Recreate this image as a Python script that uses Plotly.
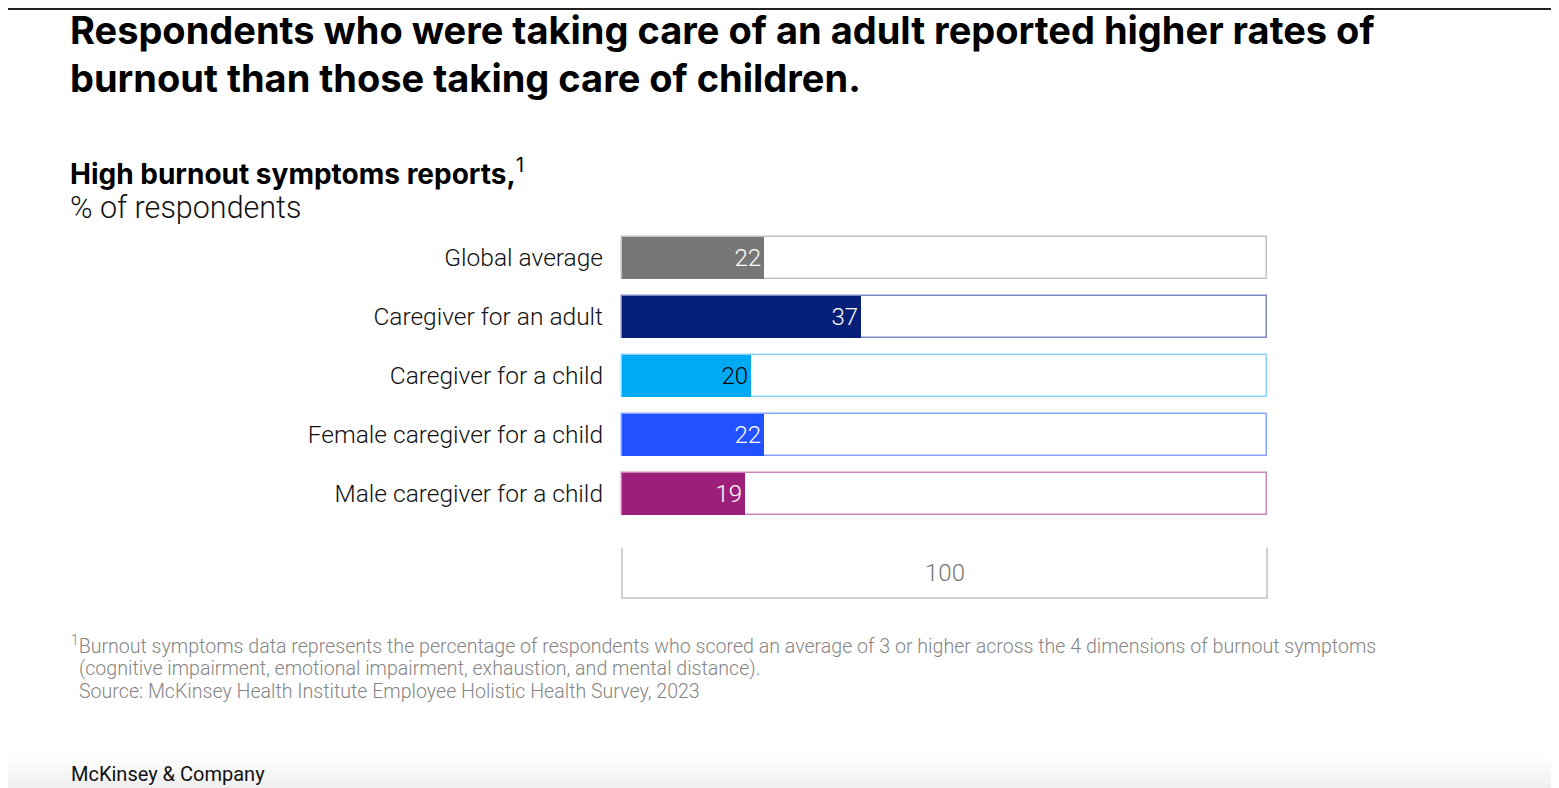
import plotly.graph_objects as go

# chart data
categories = ['Global average', 'Caregiver for an adult', 'Caregiver for a child',
              'Female caregiver for a child', 'Male caregiver for a child']
values = [22, 37, 20, 22, 19]
total = 100
bar_colors = ['#777777', '#061F79', '#00A9F4', '#2251FF', '#9E1F7A']
outline_colors = ['#C2C2C2', '#8089C0', '#8AD6F7', '#8AA2FF', '#CD86B9']
text_colors = ['white', 'white', 'black', 'white', 'white']

footnote_lines = [
    '<sup>1</sup>Burnout symptoms data represents the percentage of respondents who scored '
    'an average of 3 or higher across the 4 dimensions of burnout symptoms',
    '(cognitive impairment, emotional impairment, exhaustion, and mental distance).',
    'Source: McKinsey Health Institute Employee Holistic Health Survey, 2023',
]

positions = list(range(len(categories)))
FONT = 'Roboto'
BAR_W = 0.71

# page offset: the browser puts the figure 8px in from the corner
OFF = 8
W, H = 1559 - OFF, 788 - OFF
L, R, T, B = 620 - OFF, W - (1269 - OFF), 228 - OFF, H - (606 - OFF)
PW, PH = W - L - R, H - T - B


def px(x_ref, y_ref):
    # reference screenshot pixels -> paper coords
    return (x_ref - OFF - L) / PW, 1 - (y_ref - OFF - T) / PH


fig = go.Figure()

# 100% backdrop bars with thin coloured outline
fig.add_bar(y=positions, x=[total] * len(values), orientation='h', width=BAR_W,
            marker=dict(color='white', line=dict(color=outline_colors, width=1.5)),
            hoverinfo='skip', showlegend=False)

# value bars
fig.add_bar(y=positions, x=values, orientation='h', width=BAR_W,
            marker=dict(color=bar_colors, line=dict(width=0)),
            text=[str(v) for v in values], textposition='inside', insidetextanchor='end',
            textfont=dict(family=FONT, size=24, color=text_colors, weight=300), textangle=0,
            cliponaxis=False, showlegend=False)

# scale bracket for 100 (open on top)
box_top, box_bottom = 4.915, 5.763
fig.add_scatter(x=[0, 0, total, total], y=[box_top, box_bottom, box_bottom, box_top],
                mode='lines', line=dict(color='#C2C2C2', width=1.5),
                hoverinfo='skip', showlegend=False)
fig.add_annotation(x=total / 2, y=(box_top + box_bottom) / 2, text=str(total),
                   showarrow=False, font=dict(family=FONT, size=24, color='#777777', weight=300))

fig.update_layout(
    width=W, height=H,
    margin=dict(l=L, r=R, t=T, b=B),
    paper_bgcolor='white', plot_bgcolor='white',
    barmode='overlay', bargap=0,
    font=dict(family=FONT, color='#111111'),
    xaxis=dict(range=[-0.3, 100.3], visible=False, fixedrange=True),
    yaxis=dict(range=[5.9, -0.5], tickvals=positions, ticktext=categories,
               showgrid=False, zeroline=False, showline=False, ticks='',
               ticklabelstandoff=16,
               tickfont=dict(family=FONT, size=24.5, color='#111111', weight=300)),
)

grey = '#858585'
texts = [
    (69, 30, 'Respondents who were taking care of an adult reported higher rates of',
     dict(family='Inter', size=38, color='#000000', weight=700)),
    (69, 78, 'burnout than those taking care of children.',
     dict(family='Inter', size=38, color='#000000', weight=700)),
    (69, 172, '<b>High burnout symptoms reports,</b><sup>1</sup>',
     dict(family='Inter', size=28, color='#000000')),
    (69, 207, '% of respondents', dict(family=FONT, size=30.5, color='#111111', weight=300)),
    (70, 645, footnote_lines[0], dict(family=FONT, size=19.6, color=grey, weight=300)),
    (78, 668, footnote_lines[1], dict(family=FONT, size=19.6, color=grey, weight=300)),
    (78, 691, footnote_lines[2], dict(family=FONT, size=19.6, color=grey, weight=300)),
    (70, 774, 'McKinsey & Company', dict(family=FONT, size=20, color='#111111')),
]
for x_ref, y_ref, txt, fnt in texts:
    ax, ay = px(x_ref, y_ref)
    fig.add_annotation(xref='paper', yref='paper', x=ax, y=ay,
                       xanchor='left', yanchor='middle', align='left', borderpad=0,
                       text=txt, showarrow=False, font=fnt)

# thin dark rule along the top edge
x_left, y_line = px(0, OFF + 1)
x_right, _ = px(1559, OFF + 1)
fig.add_shape(type='line', xref='paper', yref='paper', x0=x_left, x1=x_right,
              y0=y_line, y1=y_line, line=dict(color='#222222', width=2))

# faint shadow fading in along the bottom edge
for i in range(16):
    _, y0 = px(0, 756 + i * 2)
    fig.add_shape(type='rect', xref='paper', yref='paper', layer='below',
                  x0=x_left, x1=x_right, y0=y0, y1=px(0, 800)[1],
                  fillcolor='rgba(0,0,0,0.0055)', line=dict(width=0))

fig.write_html('out.html')
